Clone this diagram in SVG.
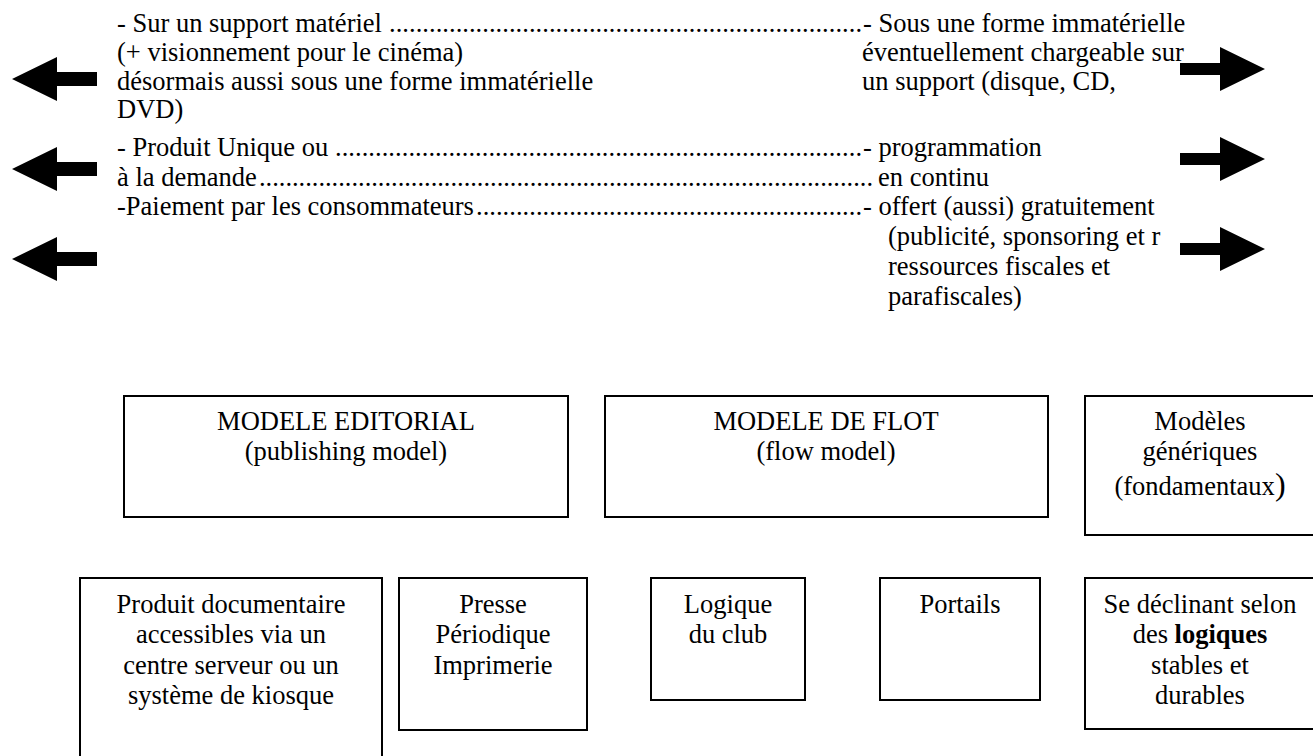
<svg xmlns="http://www.w3.org/2000/svg" width="1313" height="756" viewBox="0 0 1313 756">
<style>
text{font-family:"Liberation Serif","Times New Roman",serif;font-size:26.5px;fill:#000}
.c{text-anchor:middle}
.box{fill:#fff;stroke:#000;stroke-width:2}
.arr{fill:#000}
.b{font-weight:bold}
</style>
<rect width="1313" height="756" fill="#fff"/>
<g id="left-text">
<text x="117" y="32">- Sur un support matériel</text>
<text x="117" y="61">(+ visionnement pour le cinéma)</text>
<text x="117" y="90">désormais aussi sous une forme immatérielle</text>
<text x="117" y="118">DVD)</text>
<text x="117" y="156">- Produit Unique ou</text>
<text x="117" y="186">à la demande</text>
<text x="117" y="215">-Paiement par les consommateurs</text>
</g>
<g id="dots">
<text x="389" y="32" textLength="473" lengthAdjust="spacing">.......................................................................</text>
<text x="335" y="156" textLength="527" lengthAdjust="spacing">...............................................................................</text>
<text x="259" y="186" textLength="614" lengthAdjust="spacing">.............................................................................................</text>
<text x="476" y="215" textLength="386" lengthAdjust="spacing">..........................................................</text>
</g>
<g id="right-text">
<text x="863" y="32">- Sous une forme immatérielle</text>
<text x="862" y="61">éventuellement chargeable sur</text>
<text x="862" y="90">un support (disque, CD,</text>
<text x="863" y="156">- programmation</text>
<text x="878" y="186">en continu</text>
<text x="863" y="215">- offert (aussi) gratuitement</text>
<text x="888" y="245">(publicité, sponsoring et r</text>
<text x="888" y="275">ressources fiscales et</text>
<text x="888" y="305">parafiscales)</text>
</g>
<g id="arrows">
<polygon class="arr" points="12,79 57,57 57,72 97,72 97,86 57,86 57,101"/>
<polygon class="arr" points="12,169 57,147 57,162 97,162 97,176 57,176 57,191"/>
<polygon class="arr" points="12,259 57,237 57,252 97,252 97,266 57,266 57,281"/>
<polygon class="arr" points="1180,63 1220,63 1220,47 1265,69 1220,91 1220,75 1180,75"/>
<polygon class="arr" points="1180,153 1220,153 1220,137 1265,159 1220,181 1220,165 1180,165"/>
<polygon class="arr" points="1180,243 1220,243 1220,227 1265,249 1220,271 1220,255 1180,255"/>
</g>
<g id="modele-editorial">
<rect class="box" x="124" y="396" width="444" height="121"/>
<text class="c" x="346" y="430">MODELE EDITORIAL</text>
<text class="c" x="346" y="460">(publishing model)</text>
</g>
<g id="modele-flot">
<rect class="box" x="605" y="396" width="443" height="121"/>
<text class="c" x="826" y="430">MODELE DE FLOT</text>
<text class="c" x="826" y="460">(flow model)</text>
</g>
<g id="modeles-generiques">
<rect class="box" x="1085" y="396" width="240" height="139"/>
<text class="c" x="1200" y="430">Modèles</text>
<text class="c" x="1200" y="460">génériques</text>
<text class="c" x="1200" y="495">(fondamentaux<tspan font-size="32">)</tspan></text>
</g>
<g id="produit-documentaire">
<rect class="box" x="80" y="578" width="302" height="200"/>
<text class="c" x="231" y="613">Produit documentaire</text>
<text class="c" x="231" y="643">accessibles via un</text>
<text class="c" x="231" y="674">centre serveur ou un</text>
<text class="c" x="231" y="704">système de kiosque</text>
</g>
<g id="presse">
<rect class="box" x="399" y="578" width="188" height="152"/>
<text class="c" x="493" y="613">Presse</text>
<text class="c" x="493" y="643">Périodique</text>
<text class="c" x="493" y="674">Imprimerie</text>
</g>
<g id="logique-club">
<rect class="box" x="651" y="578" width="154" height="122"/>
<text class="c" x="728" y="613">Logique</text>
<text class="c" x="728" y="643">du club</text>
</g>
<g id="portails">
<rect class="box" x="880" y="578" width="160" height="122"/>
<text class="c" x="960" y="613">Portails</text>
</g>
<g id="se-declinant">
<rect class="box" x="1085" y="578" width="240" height="151"/>
<text class="c" x="1200" y="613">Se déclinant selon</text>
<text class="c" x="1200" y="643">des <tspan class="b">logiques</tspan></text>
<text class="c" x="1200" y="674">stables et</text>
<text class="c" x="1200" y="704">durables</text>
</g>
</svg>
